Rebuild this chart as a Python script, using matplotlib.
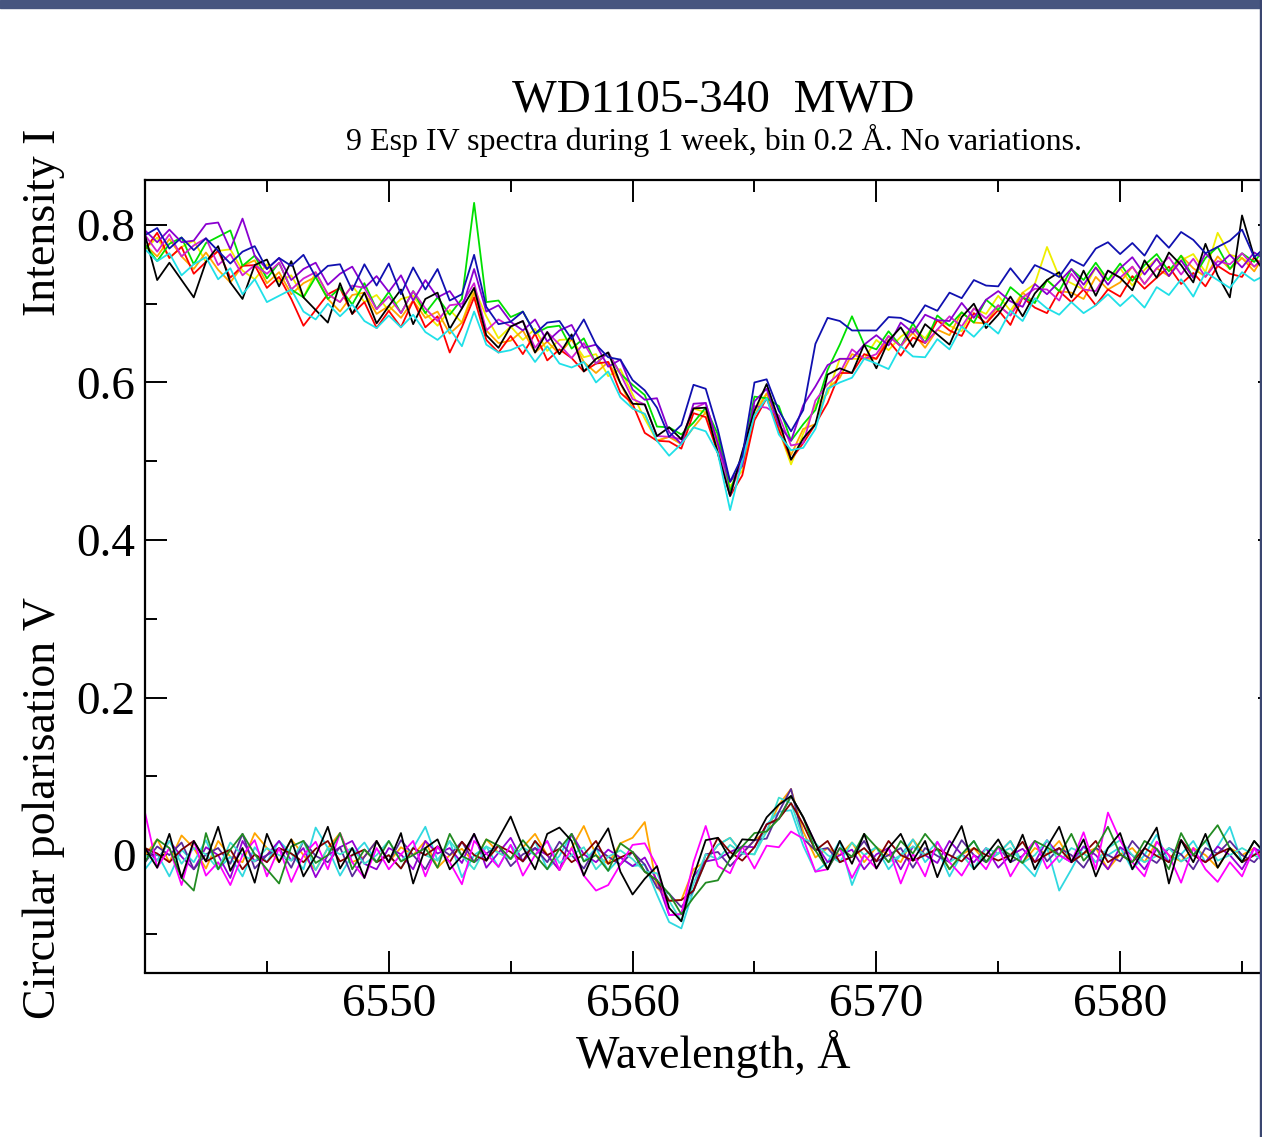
import numpy as np
import matplotlib
matplotlib.use("Agg")
import matplotlib.pyplot as plt
from matplotlib.patches import Rectangle
from matplotlib.ticker import FixedLocator

# wavelength bins, Angstrom
wavelength = [
    6540.0, 6540.5, 6541.0, 6541.5, 6542.0, 6542.5, 6543.0, 6543.5, 6544.0, 6544.5,
    6545.0, 6545.5, 6546.0, 6546.5, 6547.0, 6547.5, 6548.0, 6548.5, 6549.0, 6549.5,
    6550.0, 6550.5, 6551.0, 6551.5, 6552.0, 6552.5, 6553.0, 6553.5, 6554.0, 6554.5,
    6555.0, 6555.5, 6556.0, 6556.5, 6557.0, 6557.5, 6558.0, 6558.5, 6559.0, 6559.5,
    6560.0, 6560.5, 6561.0, 6561.5, 6562.0, 6562.5, 6563.0, 6563.5, 6564.0, 6564.5,
    6565.0, 6565.5, 6566.0, 6566.5, 6567.0, 6567.5, 6568.0, 6568.5, 6569.0, 6569.5,
    6570.0, 6570.5, 6571.0, 6571.5, 6572.0, 6572.5, 6573.0, 6573.5, 6574.0, 6574.5,
    6575.0, 6575.5, 6576.0, 6576.5, 6577.0, 6577.5, 6578.0, 6578.5, 6579.0, 6579.5,
    6580.0, 6580.5, 6581.0, 6581.5, 6582.0, 6582.5, 6583.0, 6583.5, 6584.0, 6584.5,
    6585.0, 6585.5, 6586.0]

# mean Stokes I profile
i_mean = [
    0.775, 0.772, 0.770, 0.766, 0.762, 0.759, 0.755, 0.751, 0.748, 0.743,
    0.738, 0.734, 0.730, 0.726, 0.722, 0.718, 0.714, 0.711, 0.708, 0.705,
    0.703, 0.700, 0.698, 0.694, 0.690, 0.686, 0.682, 0.678, 0.672, 0.668,
    0.665, 0.660, 0.656, 0.652, 0.648, 0.643, 0.638, 0.630, 0.620, 0.605,
    0.585, 0.560, 0.538, 0.525, 0.528, 0.555, 0.562, 0.522, 0.462, 0.500,
    0.570, 0.580, 0.552, 0.520, 0.535, 0.565, 0.598, 0.618, 0.630, 0.636,
    0.642, 0.647, 0.652, 0.657, 0.662, 0.667, 0.672, 0.677, 0.682, 0.687,
    0.692, 0.697, 0.702, 0.707, 0.712, 0.716, 0.720, 0.724, 0.728, 0.730,
    0.733, 0.735, 0.737, 0.739, 0.741, 0.743, 0.745, 0.746, 0.748, 0.750,
    0.752, 0.753, 0.755]

# per-spectrum offsets from the mean, in units of 0.006
i_black = [
    2, -7, -3, -6, -9, -1, 3, -4, -7, 1,
    3, -2, 4, -3, -5, -7, 2, -4, 1, -5,
    -1, 3, -4, 2, 4, -3, 2, 7, -2, -4,
    1, 3, -3, 2, -2, 3, -4, 0, 3, -1,
    -2, 2, -1, 3, 0, 2, 1, -2, -1, 2,
    -1, 3, 0, -3, -1, -3, 2, 0, -3, 2,
    -4, 1, 3, -2, 2, -1, -4, 1, 3, -3,
    -1, 2, -3, 1, 3, 4, -2, 3, -3, 2,
    0, -3, 3, -1, 4, 1, -3, 5, -2, -7,
    10, 1, -3]
i_red = [
    -1, 3, -2, 1, -4, -1, 2, -3, 0, 1,
    -3, 0, -4, -9, -5, -1, 1, -4, -1, -6,
    -2, -5, 1, -4, -1, -8, -2, 5, -3, -5,
    -1, -4, 1, -4, -1, -2, -4, -1, 1, -3,
    -2, -4, -2, 0, -2, 1, -1, -2, -1, -3,
    -3, 0, -2, -3, -2, -3, -4, -1, -3, 0,
    -2, 1, -3, 0, -2, 2, -1, -3, 1, -2,
    0, -4, 1, -2, -4, 0, -3, -1, -5, -2,
    -4, 0, -3, -1, 1, -3, -1, -4, 0, -2,
    -3, 1, -2]
i_green = [
    0, -3, 1, 3, -2, 3, 5, 7, 0, 3,
    -1, 3, -2, -3, 2, -2, 1, -2, 3, -2,
    2, -2, 3, -1, 3, 0, 4, 25, 5, 6,
    3, 5, 1, 3, 4, 0, 3, -1, 3, 1,
    2, 4, 1, 3, 1, -1, 1, 2, 0, 1,
    2, 0, 3, 1, 2, 0, 3, 5, 9, 2,
    0, 3, -1, 3, -2, 3, 0, 2, -1, 3,
    0, 4, 1, -1, 3, 0, 4, 1, 4, 0,
    3, -1, 2, 4, 0, 3, -2, 2, 4, -1,
    2, 0, 3]
i_blue = [
    2, 4, 0, 3, 1, 4, 2, 0, 3, 5,
    1, 4, 3, 6, 2, 5, 6, 1, 7, 3,
    8, 2, 8, 4, 9, 3, 5, 14, 4, 1,
    2, 5, 1, 4, 5, 2, 7, 3, 2, 4,
    3, 5, 5, 1, 3, 7, 5, 3, 2, 1,
    5, 4, 2, 3, 5, 14, 14, 10, 6, 5,
    4, 6, 5, 3, 6, 4, 7, 5, 8, 6,
    5, 8, 4, 7, 5, 3, 6, 4, 7, 8,
    5, 7, 4, 8, 5, 8, 6, 3, 4, 5,
    7, 1, 3]
i_yellow = [
    -1, 2, -2, 1, 3, -1, 2, 3, -1, -2,
    2, -1, 1, -3, 3, -1, -2, 2, -1, 1,
    -2, 1, 2, -1, -3, 1, -1, 7, 2, -2,
    1, -1, 2, -2, 1, 2, -1, 1, -2, 2,
    0, -1, -2, 1, -1, 2, 0, -1, 1, -2,
    -1, 1, -2, -4, 0, 1, -2, 2, 0, -1,
    2, -1, 1, 2, -1, 2, 0, -2, 2, 0,
    3, -1, 2, 3, 10, 3, 1, -1, 3, 0,
    2, -2, 1, 3, -1, 2, 3, -1, 7, 2,
    1, -1, 1]
i_orange = [
    0, -2, 2, -1, -3, 1, -2, -4, 0, 2,
    -2, 1, -3, 0, 2, -2, -4, 0, 1, -3,
    -1, -3, 1, -2, 0, -4, -1, 6, -1, -3,
    -2, 1, -3, 0, -2, 2, -2, -3, 1, -1,
    -3, 0, -2, 1, -1, -2, 0, 1, 2, -1,
    -2, 1, -1, -2, 1, -3, -1, -2, 1, -1,
    -2, 2, -1, 1, -3, 0, -2, 2, -1, -2,
    1, -2, 2, -1, 3, 0, -1, -3, 1, -2,
    -1, 2, -2, 1, -1, 3, 0, -2, 2, -1,
    1, -2, 2]
i_violet = [
    3, 1, 4, 2, 3, 7, 8, 3, 10, 3,
    1, 4, 0, 3, 5, 1, 4, 6, 2, 5,
    2, 6, 1, 6, 3, 5, 2, 11, 3, 5,
    2, 1, 4, 0, 3, 5, 1, 3, 0, 4,
    1, 3, 7, 2, -1, 3, 2, 0, 2, -1,
    1, 2, -1, 1, 6, 5, 4, 2, 0, 2,
    3, 0, 4, 1, 4, 2, 1, 4, 0, 3,
    4, 1, -1, 3, 0, 2, 4, 0, 3, -1,
    2, 4, 0, 3, -1, 2, -2, 3, 0, 2,
    -1, 2, 0]
i_cyan = [
    -1, -3, -1, -5, -2, 0, -4, -1, -6, -2,
    -6, -4, -2, -6, -7, -3, -5, -2, -5, -6,
    -3, -5, -2, -5, -6, -3, -6, 2, -4, -5,
    -4, -2, -5, -1, -4, -4, -2, -5, -1, -4,
    -3, 0, -2, -3, -1, -2, -4, -2, -4, 0,
    -2, 0, -3, -1, -3, -4, -1, -3, -4, -1,
    -3, -5, -1, -4, -5, -2, -5, -1, -4, -2,
    -5, -1, -4, 0, -3, -5, -3, -6, -5, -3,
    -6, -4, -7, -3, -5, -2, -6, -1, -3, -5,
    -2, -4, -3]
i_magenta = [
    2, -1, 3, -1, 2, 4, -1, 2, -2, 1,
    0, 3, -2, 1, 3, -1, -2, 2, 2, -2,
    1, -2, 3, 0, -2, 2, 3, 8, -1, 2,
    1, 3, -2, 2, 0, -2, 2, -1, 3, 1,
    -1, 2, -1, 1, 0, 2, 2, 0, -1, 1,
    0, -2, 1, 0, -2, 2, 0, -1, 2, -1,
    -1, 2, -1, 2, -2, 0, 2, -1, 2, -1,
    1, -2, 1, 2, 1, -2, 3, -1, -2, 2,
    0, 2, -2, 1, 3, -1, 2, -2, 1, 0,
    2, -1, 1]

# mean Stokes V profile
v_mean = [
    0.000, 0.002, 0.000, -0.002, 0.000, 0.001, 0.000, -0.002, 0.000, 0.001,
    0.000, 0.000, 0.002, 0.000, -0.001, 0.000, 0.001, 0.000, -0.002, 0.000,
    0.000, 0.001, 0.000, 0.000, 0.002, 0.000, -0.001, 0.000, 0.002, 0.003,
    0.004, 0.001, 0.000, 0.000, -0.001, 0.000, 0.001, 0.000, -0.002, -0.003,
    -0.005, -0.012, -0.032, -0.058, -0.066, -0.036, -0.008, 0.004, 0.004, 0.002,
    0.010, 0.030, 0.055, 0.066, 0.030, 0.006, 0.000, 0.000, -0.002, 0.000,
    0.001, 0.000, 0.000, 0.002, 0.000, -0.001, 0.000, 0.001, 0.000, 0.000,
    0.002, 0.000, -0.001, 0.000, 0.001, 0.000, 0.000, 0.002, 0.000, 0.000,
    0.001, 0.000, 0.000, -0.001, 0.000, 0.001, 0.000, 0.000, 0.002, 0.000,
    0.000, 0.000, 0.000]

# per-spectrum V offsets, in units of 0.009
v_black = [
    1, -2, 3, -3, 2, -1, 4, -2, 1, -4,
    3, -1, 2, -3, 0, 4, -2, 1, -3, 2,
    -1, 3, -4, 1, 2, -2, 0, 3, -1, 2,
    5, 1, -2, 3, 4, 2, -3, 1, 4, -2,
    -5, -2, 2, -1, -2, 1, 3, 2, -1, 2,
    1, 2, 1, 1, 2, 1, -2, 2, -1, 3,
    -2, 1, 3, -1, 2, -3, 1, 4, -2, 0,
    2, -1, 3, -2, 1, 4, -1, 2, -3, 1,
    3, -2, 1, 4, -4, 2, -1, 3, -2, 1,
    -1, 2, 0]
v_magenta = [
    6, -2, 1, -4, 2, -3, -1, -4, 0, 2,
    -3, 1, -4, 0, 2, -2, 3, -1, -3, 1,
    -2, 0, 2, -3, 1, -1, -4, 2, 0, -2,
    1, -3, 0, 2, -2, 1, -3, -5, -4, -1,
    2, 3, 2, -2, -1, 3, 5, -2, -3, 1,
    -3, -2, -5, -4, -1, -3, -2, 1, -3, 0,
    -2, 1, -4, 0, -3, 2, -1, -3, 0, -2,
    1, -3, 0, 2, -2, 0, -1, 3, -2, 6,
    2, -1, -3, 2, 0, -4, 1, -2, -4, -1,
    -3, 1, -2]
v_orange = [
    0, 2, -1, 3, 1, -2, 2, 0, -1, 3,
    1, -1, 2, 0, -2, 1, 3, -1, 0, 2,
    -1, 1, 0, 2, -2, 0, 1, -1, 2, 0,
    -1, 1, 3, 0, -2, 1, 4, 0, -1, 2,
    3, 6, -1, 0, 1, 2, 0, 1, 2, 0,
    1, 0, 1, 2, 0, -1, 1, 0, 2, -1,
    1, 0, -1, 2, 0, 1, -2, 0, 1, -1,
    0, 2, -1, 1, 0, 2, -1, 0, 1, -2,
    0, 1, -1, 2, 0, -1, 1, 0, -2, 1,
    0, 1, -1]
v_cyan = [
    -2, 0, -3, 1, -1, 2, -2, 0, -3, 1,
    -1, 2, 0, -2, 4, 1, -3, 0, 2, -1,
    0, -2, 1, 4, -1, 2, -3, 0, 1, -2,
    1, -1, 2, -2, 0, 3, -1, 1, -2, 0,
    -1, 0, -2, -3, -3, -1, 0, 1, 2, 0,
    -1, 1, 0, -1, -2, -3, -1, 2, -4, 0,
    1, -2, 0, 2, -1, 1, -3, 0, 2, -1,
    0, 2, -1, -3, 1, -5, -2, 1, -1, 0,
    1, -2, 0, 3, -1, 0, 2, -1, 1, 4,
    -1, 0, 2]
v_green = [
    -1, 2, 1, -3, -5, 3, -2, 1, 3, 0,
    -2, -4, 1, 2, -1, 0, 3, -2, 1, -1,
    2, -1, 0, 1, -2, 3, 0, -1, 2, 1,
    -1, 2, 0, -2, 1, 3, -1, 0, -2, 2,
    1, -1, 0, 1, -1, -2, -3, -4, -1, 1,
    2, 0, -1, 1, 2, 0, -2, 1, 0, 3,
    1, -1, 2, 0, 3, 1, -2, 0, 2, -1,
    1, 0, -1, 2, 1, 0, 3, -1, 1, 4,
    0, -1, 2, 1, -2, 3, 0, 2, 4, 1,
    -1, 2, 0]
v_violet = [
    1, -1, 2, 0, -2, 1, 0, -3, 2, -1,
    0, 2, -1, 1, -3, 0, 1, 2, -1, -2,
    1, 0, -2, 2, 0, 1, -1, 3, -2, 0,
    2, -1, 1, 0, -2, 3, 0, -1, 1, 0,
    -1, 1, 0, -2, -1, 1, 0, -1, 0, 1,
    0, 1, -1, 1, 2, 1, -1, 0, 1, -2,
    0, 1, -2, 1, 0, -1, 2, 0, -1, 1,
    -2, 0, 1, -1, 2, 0, -1, 1, 0, -2,
    1, 0, -2, 1, -1, 2, 0, -1, 1, 0,
    -2, 1, 0]
v_indigo = [
    -1, 1, 0, 2, -2, 0, 1, -1, 3, -2,
    0, 1, -2, 2, 0, -1, 1, -3, 0, 2,
    -1, 2, 0, -2, 1, 0, 2, -1, 0, 1,
    -2, 0, 1, -1, 2, 0, -2, 1, 0, -1,
    1, 0, -1, 1, 0, -1, 1, 0, -2, 0,
    1, -1, 0, 2, -1, 0, 1, -1, 0, 2,
    -1, 0, 1, -2, 1, 0, -1, 2, 0, -1,
    1, -1, 0, 2, -1, 1, 0, -2, 1, 0,
    -1, 2, 0, -1, 1, 0, -2, 1, 0, 2,
    0, -1, 1]
v_turquoise = [
    0, -1, 2, -1, 1, 0, -2, 2, 0, -1,
    1, 0, -1, 2, -2, 1, 0, 1, -1, 0,
    2, -1, 1, 0, -1, 2, 0, -2, 1, 0,
    -1, 1, 0, 2, -1, 0, 1, -2, 0, 1,
    0, -1, 1, 0, -2, 0, 1, -1, 1, 0,
    -1, 0, 2, 0, -1, 1, 0, -1, 2, 0,
    1, -1, 0, 1, 0, 2, -1, 0, -2, 1,
    0, 1, -1, 0, 2, -1, 1, 0, -1, 1,
    2, 0, -1, 0, 1, -1, 0, 2, -1, 0,
    1, 0, -1]
v_maroon = [
    1, 0, -1, 1, 2, -1, 0, 1, -2, 0,
    -1, 1, 0, -1, 1, 2, -1, 0, 1, -1,
    0, -2, 1, 0, 1, -1, 2, 0, -1, 1,
    0, -1, 2, 0, 1, -1, 0, 2, -1, 0,
    1, -1, 0, 0, 1, -1, 0, 2, 0, -1,
    0, 1, -1, 0, 1, 0, 2, -1, 0, 1,
    -1, 2, 0, -1, 0, 1, 0, -1, 1, 0,
    -1, 0, 2, -1, 0, 1, -1, 0, 2, -1,
    0, -1, 1, 0, -1, 2, 0, -1, 0, 1,
    -1, 0, 1]

x_major = [6550, 6560, 6570, 6580]
x_minor = [6545, 6555, 6565, 6575, 6585]
y_major = [0, 0.2, 0.4, 0.6, 0.8]
y_labels = ['0', '0.2', '0.4', '0.6', '0.8']
y_minor = [-0.1, 0.1, 0.3, 0.5, 0.7]

# drawing order: last one ends up on top
i_series = [(i_yellow, '#eeee00'), (i_orange, '#ffa500'), (i_red, '#ff0000'),
            (i_green, '#00e000'), (i_magenta, '#d020d0'), (i_violet, '#8a00d0'),
            (i_black, '#000000'), (i_cyan, '#20e0e8'), (i_blue, '#1010b0')]
v_series = [(v_orange, '#ffa500'), (v_cyan, '#30d8e0'), (v_violet, '#9400d3'),
            (v_indigo, '#5a2a9a'), (v_turquoise, '#40e0d0'), (v_maroon, '#800000'),
            (v_magenta, '#ff00ff'), (v_green, '#228b22'), (v_black, '#000000')]

plt.rcParams['font.family'] = 'Liberation Serif'

W, H = 1262, 1137
fig = plt.figure(figsize=(W / 100, H / 100), dpi=100)
fig.patch.set_facecolor('white')

# axes box: left 145px, bottom 972px, top 180px, right spine falls just off the image
ax = fig.add_axes([145 / W, (H - 972.5) / H, (1280 - 145) / W, (972.5 - 180) / H])

wl = np.array(wavelength)
for dev, col in i_series:
    ax.plot(wl, np.array(i_mean) + 0.006 * np.array(dev), color=col, lw=1.3)
for dev, col in v_series:
    ax.plot(wl, np.array(v_mean) + 0.009 * np.array(dev), color=col, lw=1.3)

ax.set_xlim(6540, 6550 + (1280 - 388) / 24.4)
ax.set_ylim(-0.149, 0.857)

ax.set_xticks(x_major)
ax.xaxis.set_minor_locator(FixedLocator(x_minor))
ax.set_yticks(y_major)
ax.set_yticklabels(y_labels)
ax.yaxis.set_minor_locator(FixedLocator(y_minor))

ax.tick_params(which='major', direction='in', length=15.8, width=1.4,
               top=True, right=True, labelsize=34)
ax.tick_params(which='minor', direction='in', length=8.6, width=1.4,
               top=True, right=True)
ax.tick_params(axis='x', pad=8)
ax.tick_params(axis='y', pad=7)
for s in ax.spines.values():
    s.set_linewidth(1.6)

fig.text(713 / W, 1 - 112 / H, 'WD1105-340  MWD', ha='center', va='baseline', fontsize=34)
fig.text(714 / W, 1 - 150 / H, '9 Esp IV spectra during 1 week, bin 0.2 Å. No variations.',
         ha='center', va='baseline', fontsize=23)
fig.text(713 / W, 1 - 1068 / H, 'Wavelength, Å', ha='center', va='baseline', fontsize=33)
fig.text(44 / W, 1 - 222 / H, 'Intensity I', rotation=90, ha='center', va='center', fontsize=33)
fig.text(44 / W, 1 - 808 / H, 'Circular polarisation V', rotation=90, ha='center', va='center',
         fontsize=33)

# dark textured border of the original screenshot (top band and right edge)
fig.patches.append(Rectangle((0, 1 - 8 / H), 1, 8 / H, transform=fig.transFigure,
                             color='#46557f', zorder=10))
fig.patches.append(Rectangle((1260 / W, 0), 2 / W, 1, transform=fig.transFigure,
                             color='#3a4670', zorder=10))

fig.savefig('out.png', dpi=100)
